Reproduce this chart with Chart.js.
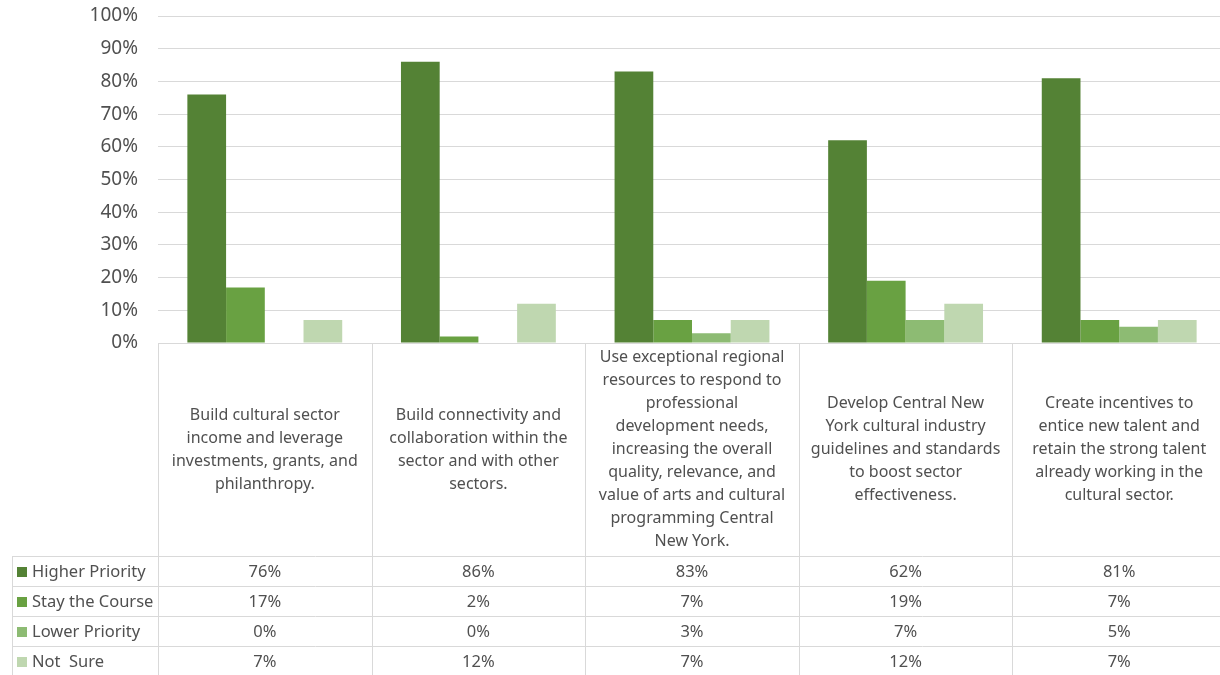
<!DOCTYPE html>
<html>
<head>
    <title>Priorities</title>
    <script src="https://cdn.jsdelivr.net/npm/chart.js"></script>
    <style>
        html, body { margin: 0; padding: 0; background: #ffffff; overflow: hidden; }
        .chart-container { width: 1226px; height: 675px; }
    </style>
</head>
<body>
    <div class="chart-container">
        <canvas id="priorityChart"></canvas>
    </div>

    <script>
        // Category labels (line breaks as in the original data table)
        const categories = [
            ['Build cultural sector', 'income and leverage', 'investments, grants, and', 'philanthropy.'],
            ['Build connectivity and', 'collaboration within the', 'sector and with other', 'sectors.'],
            ['Use exceptional regional', 'resources to respond to', 'professional', 'development needs,', 'increasing the overall', 'quality, relevance, and', 'value of arts and cultural', 'programming Central', 'New York.'],
            ['Develop Central New', 'York cultural industry', 'guidelines and standards', 'to boost sector', 'effectiveness.'],
            ['Create incentives to', 'entice new talent and', 'retain the strong talent', 'already working in the', 'cultural sector.']
        ];
        const seriesNames = ['Higher Priority', 'Stay the Course', 'Lower Priority', 'Not  Sure'];
        const higherPriority = [76, 86, 83, 62, 81];
        const stayTheCourse = [17, 2, 7, 19, 7];
        const lowerPriority = [0, 0, 3, 7, 5];
        const notSure = [7, 12, 7, 12, 7];
        const yTicks = [0, 10, 20, 30, 40, 50, 60, 70, 80, 90, 100];

        const seriesValues = [higherPriority, stayTheCourse, lowerPriority, notSure];
        const seriesColors = ['#548235', '#69a142', '#8dbb73', '#bfd7b0'];

        const textColor = '#505050';
        const lineColor = '#d9d9d9';
        const fontFamily = '"Noto Sans", "Open Sans", sans-serif';

        // Data table drawn under the plot, positioned from the x scale
        const dataTablePlugin = {
            id: 'dataTable',
            afterDraw(chart) {
                const ctx = chart.ctx;
                const area = chart.chartArea;
                const x = chart.scales.x;
                const catW = (area.right - area.left) / categories.length;
                const top = area.bottom;
                const labelH = 213;
                const rowH = 30;
                const legendLeft = 12;
                const rowsTop = top + labelH;
                const bottom = rowsTop + rowH * seriesNames.length;

                ctx.save();
                ctx.strokeStyle = lineColor;
                ctx.lineWidth = 1;
                ctx.beginPath();
                // vertical lines at category boundaries
                for (let i = 0; i <= categories.length; i++) {
                    const bx = Math.round(area.left + i * catW) + 0.5;
                    ctx.moveTo(bx, top);
                    ctx.lineTo(bx, bottom);
                }
                // left edge of legend column
                ctx.moveTo(legendLeft + 0.5, rowsTop);
                ctx.lineTo(legendLeft + 0.5, bottom);
                // horizontal row lines
                for (let r = 0; r <= seriesNames.length; r++) {
                    const ry = Math.round(rowsTop + r * rowH) + 0.5;
                    ctx.moveTo(legendLeft, ry);
                    ctx.lineTo(area.right, ry);
                }
                ctx.stroke();

                // category labels
                ctx.fillStyle = textColor;
                ctx.font = '16px ' + fontFamily;
                ctx.textAlign = 'center';
                ctx.textBaseline = 'middle';
                const lineH = 23;
                categories.forEach((lines, i) => {
                    const cx = x.getPixelForValue(i);
                    const cy = top + labelH / 2;
                    const startY = cy - (lines.length - 1) * lineH / 2;
                    lines.forEach((ln, j) => ctx.fillText(ln, cx, startY + j * lineH));
                });

                // rows: legend key + values
                ctx.font = '16.5px ' + fontFamily;
                seriesNames.forEach((name, s) => {
                    const cy = rowsTop + s * rowH + rowH / 2 + 1;
                    ctx.fillStyle = seriesColors[s];
                    ctx.fillRect(17, cy - 5, 10, 10);
                    ctx.fillStyle = textColor;
                    ctx.textAlign = 'left';
                    ctx.fillText(name, 32, cy);
                    ctx.textAlign = 'center';
                    seriesValues[s].forEach((v, i) => {
                        ctx.fillText(v + '%', x.getPixelForValue(i), cy);
                    });
                });
                ctx.restore();
            }
        };

        const ctx = document.getElementById('priorityChart').getContext('2d');
        new Chart(ctx, {
            type: 'bar',
            data: {
                labels: categories.map(c => c.join(' ')),
                datasets: seriesNames.map((name, s) => ({
                    label: name,
                    data: seriesValues[s],
                    backgroundColor: seriesColors[s],
                    borderWidth: 0,
                    categoryPercentage: 0.725,
                    barPercentage: 1.0
                }))
            },
            options: {
                responsive: true,
                maintainAspectRatio: false,
                animation: false,
                layout: {
                    padding: { top: 16, right: 0, bottom: 332, left: 0 }
                },
                plugins: {
                    legend: { display: false },
                    tooltip: { enabled: false }
                },
                scales: {
                    x: {
                        display: false
                    },
                    y: {
                        min: 0,
                        max: 100,
                        afterFit(scale) {
                            scale.width = 158;
                            scale.paddingTop = 12;
                            scale.paddingBottom = 12;
                        },
                        afterBuildTicks(scale) {
                            scale.ticks = yTicks.map(v => ({ value: v }));
                        },
                        ticks: {
                            padding: 20,
                            color: textColor,
                            font: { family: fontFamily, size: 19 },
                            callback: v => v + '%'
                        },
                        grid: {
                            color: lineColor,
                            lineWidth: 1,
                            drawTicks: false
                        },
                        border: { display: false }
                    }
                }
            },
            plugins: [dataTablePlugin]
        });
    </script>
</body>
</html>
